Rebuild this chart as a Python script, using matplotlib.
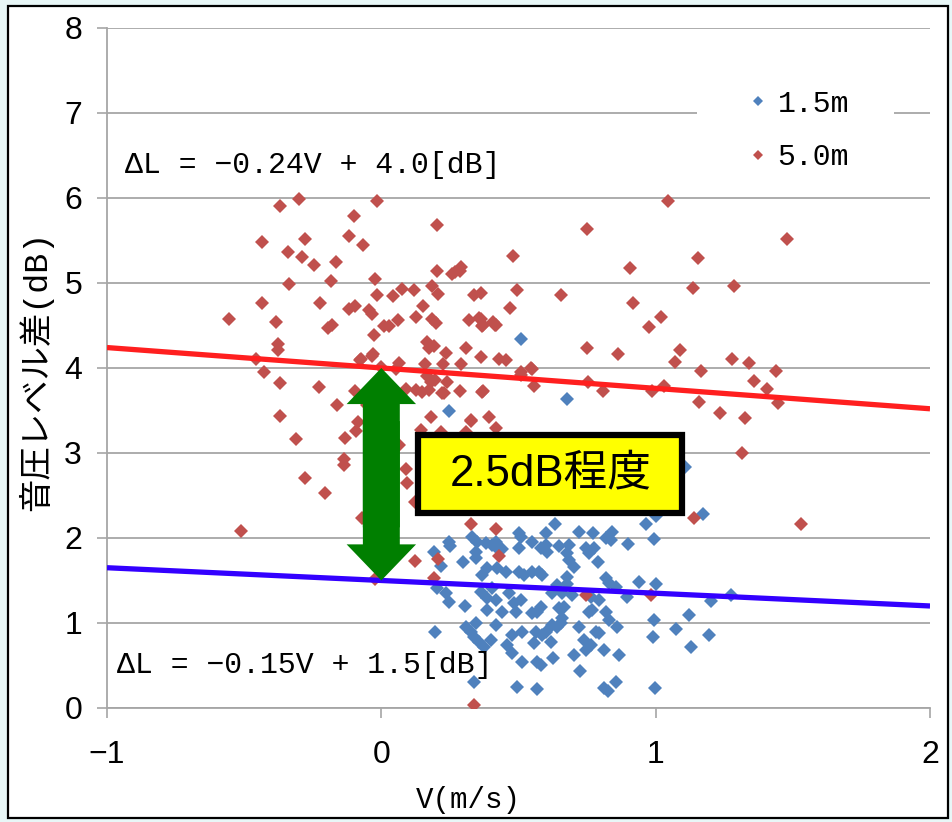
import matplotlib
matplotlib.use('Agg')
import matplotlib.pyplot as plt
from matplotlib.lines import Line2D
from matplotlib.path import Path
from matplotlib.patches import Rectangle, FancyArrowPatch

# Measured level difference vs. wind speed, 5.0 m microphone
red_v = [-0.554, -0.51, -0.456, -0.434, -0.434, -0.427, -0.383, -0.377, -0.377, -0.368,
         -0.368, -0.37, -0.312, -0.30, -0.339, -0.337, -0.29, -0.277, -0.277, -0.244,
         -0.226, -0.224, -0.206, -0.195, -0.184, -0.18, -0.166, -0.162, -0.135, -0.135,
         -0.131, -0.117, -0.117, -0.10, -0.095, -0.095, -0.093, -0.084, -0.075, -0.069,
         -0.066, -0.051, -0.044, -0.035, -0.031, -0.027, -0.024, -0.016, -0.016, -0.024,
         0.0, 0.011, 0.029, 0.044, 0.053, 0.062, 0.066, 0.075, 0.089, 0.091,
         0.12, 0.124, 0.126, 0.124, 0.128, 0.151, 0.16, 0.166, 0.168, 0.173,
         0.175, 0.18, 0.186, 0.186, 0.193, 0.195, 0.20, 0.204, 0.204, 0.206,
         0.208, 0.226, 0.23, 0.237, 0.257, 0.27, 0.286, 0.292, 0.286, 0.29,
         0.308, 0.326, 0.326, 0.321, 0.339, 0.339, 0.363, 0.365, 0.37, 0.363,
         0.37, 0.394, 0.407, 0.419, 0.419, 0.419, 0.43, 0.43, 0.456, 0.47,
         0.48, 0.494, 0.509, 0.549, 0.558, 0.656, 0.751, 0.751, 0.753, 0.746,
         0.808, 0.864, 0.906, 0.919, 0.975, 0.986, 1.019, 1.045, 1.032, 1.07,
         1.087, 1.136, 1.139, 1.156, 1.158, 1.167, 1.234, 1.278, 1.285, 1.316,
         1.327, 1.34, 1.36, 1.406, 1.437, 1.446, 1.48, 1.528,
         0.18, 0.24, 0.15, 0.22, 0.368, 0.51, 0.546, 0.328, 0.146, 0.219,
         0.31, 0.066, 0.095, 0.984, 0.193, 0.357, 0.368, 0.415, -0.033, -0.077]
red_dl = [4.58, 2.08, 4.10, 5.48, 4.77, 3.95, 4.54, 4.28, 4.21, 3.82,
          5.91, 3.44, 3.17, 5.99, 5.37, 4.99, 5.30, 5.52, 2.71, 5.21,
          3.78, 4.76, 2.53, 4.47, 5.02, 4.51, 5.25, 3.57, 2.93, 2.86,
          3.18, 5.55, 4.69, 5.79, 4.73, 3.73, 3.26, 3.36, 4.10, 2.23,
          5.45, 3.56, 4.68, 4.63, 4.16, 4.39, 5.05, 5.97, 4.86, 1.52,
          4.01, 4.49, 4.49, 4.85, 3.99, 4.57, 4.06, 4.93, 2.81, 3.75,
          4.92, 1.73, 4.60, 2.42, 3.74, 4.73, 4.05, 3.90, 4.31, 3.74,
          4.23, 3.42, 4.97, 4.58, 4.26, 3.86, 4.53, 5.68, 5.14, 4.87,
          1.75, 4.05, 3.70, 4.18, 5.11, 5.13, 5.14, 5.19, 3.73, 4.05,
          4.23, 2.16, 3.38, 4.56, 4.86, 0.03, 4.88, 4.58, 4.50, 4.13,
          3.73, 3.42, 4.54, 4.51, 3.29, 2.10, 1.79, 4.10, 4.09, 4.71,
          5.32, 4.92, 3.92, 3.99, 3.79, 4.86, 5.64, 4.23, 3.84, 1.33,
          3.73, 4.17, 5.18, 4.77, 4.48, 3.73, 4.60, 5.96, 3.79, 4.07,
          4.21, 4.94, 2.23, 5.29, 3.60, 3.97, 3.47, 4.10, 4.97, 3.00,
          3.41, 4.06, 3.85, 3.75, 3.97, 3.59, 5.52, 2.17,
          3.84, 3.84, 3.72, 3.70, 3.72, 3.95, 4.00, 3.39, 3.27, 3.25,
          3.25, 3.09, 2.65, 1.33, 1.53, 4.59, 4.49, 4.51, 4.14, 4.09]

# Measured level difference vs. wind speed, 1.5 m microphone
blue_v = [0.509, 0.678, 0.246, 1.107, 1.172, 1.003, 0.963, 0.994, 0.899, 0.839,
          0.633, 0.193, 0.25, 0.219, 0.197, 0.939, 1.003, 1.20, 1.276, 1.12,
          1.074, 1.13, 1.196, 0.994, 0.99, 0.999, 0.868, 0.857, 0.813, 0.826,
          0.724, 0.567, 0.494, 0.337, 0.512, 0.567, 0.583, 0.625, 0.704,
          0.237, 0.248, 0.306, 0.299, 0.346, 0.346, 0.35, 0.332, 0.382, 0.404,
          0.423, 0.419, 0.441, 0.51, 0.503, 0.368, 0.386, 0.423, 0.455, 0.503,
          0.521, 0.364, 0.404, 0.386, 0.419, 0.441, 0.386, 0.485, 0.492, 0.51,
          0.466, 0.204, 0.31, 0.328, 0.339, 0.357, 0.375, 0.346, 0.401, 0.419,
          0.459, 0.477, 0.477, 0.514,
          0.55, 0.55, 0.583, 0.601, 0.605, 0.648, 0.685, 0.678, 0.685, 0.703,
          0.747, 0.758, 0.776, 0.79, 0.82, 0.838, 0.576, 0.587, 0.678, 0.641,
          0.678, 0.623, 0.659, 0.696, 0.82, 0.831, 0.856, 0.794, 0.765, 0.896,
          0.55, 0.568, 0.583, 0.648, 0.667, 0.659, 0.758, 0.769, 0.82, 0.831,
          0.86, 0.565, 0.601, 0.623, 0.641, 0.656, 0.721, 0.783, 0.794, 0.557,
          0.619, 0.587, 0.74, 0.765, 0.747, 0.812,
          0.6, 0.72, 0.77, 0.248, 0.503]
blue_dl = [4.34, 3.64, 3.49, 2.84, 2.28, 2.26, 2.16, 1.99, 1.93, 2.07,
           2.16, 1.83, 1.91, 1.67, 0.89, 1.48, 1.46, 1.26, 1.33, 1.09,
           0.93, 0.72, 0.86, 1.04, 0.83, 0.23, 0.62, 0.30, 0.23, 0.20,
           0.43, 0.22, 0.25, 0.31, 0.54, 0.54, 0.51, 0.59, 0.62,
           1.35, 1.25, 1.20, 1.72, 1.84, 1.76, 1.95, 2.01, 1.94, 1.92,
           1.88, 1.95, 1.87, 2.01, 1.88, 1.56, 1.65, 1.65, 1.60, 1.60,
           1.56, 1.36, 1.41, 1.29, 1.27, 1.13, 1.15, 1.24, 1.13, 1.27,
           1.35, 1.41, 0.95, 0.89, 0.84, 0.78, 0.72, 1.00, 0.80, 0.98,
           0.74, 0.86, 0.65, 0.89,
           1.95, 1.60, 1.88, 1.92, 1.84, 1.90, 1.92, 1.82, 1.74, 1.66,
           1.88, 1.82, 1.88, 1.72, 2.00, 1.98, 1.60, 1.56, 1.54, 1.45,
           1.46, 1.35, 1.35, 1.33, 1.53, 1.47, 1.42, 1.27, 1.31, 1.31,
           1.12, 1.13, 1.19, 1.18, 1.19, 1.06, 1.13, 1.15, 1.13, 1.04,
           0.95, 0.89, 0.89, 0.98, 0.95, 1.00, 0.95, 0.89, 0.88, 0.76,
           0.78, 0.86, 0.80, 0.74, 0.68, 0.68,
           2.06, 2.07, 2.06, 1.95, 2.06]

# Regression lines: dL = slope * V + intercept
fit_red = (-0.24, 4.0)
fit_blue = (-0.15, 1.5)

series_labels = ['1.5m', '5.0m']
x_ticks = [-1, 0, 1, 2]
y_ticks = [0, 1, 2, 3, 4, 5, 6, 7, 8]

RED = '#c0504d'
BLUE = '#4f81bd'
GRID = '#a6a6a6'
MONO = 'Liberation Mono'
JP = 'Noto Sans CJK JP'


def equation(fit):
    slope, intercept = fit
    return f'ΔL = {slope:.2f}V + {intercept:.1f}[dB]'.replace('-', '−')


def padded_box(left, right, bottom, top):
    """Rectangular box style with separate padding on each side (in font sizes)."""
    def style(x0, y0, width, height, mutation_size):
        x_lo, x_hi = x0 - left * mutation_size, x0 + width + right * mutation_size
        y_lo, y_hi = y0 - bottom * mutation_size, y0 + height + top * mutation_size
        return Path([(x_lo, y_lo), (x_hi, y_lo), (x_hi, y_hi), (x_lo, y_hi), (x_lo, y_lo)],
                    closed=True)
    return style


fig = plt.figure(figsize=(9.52, 8.22), dpi=100, facecolor='#e8f7f7')
# white panel with a thin black frame
frame = Rectangle((0.0084, 0.005), 0.9874, 0.9877, transform=fig.transFigure,
                  facecolor='white', edgecolor='black', linewidth=1.6, zorder=-10)
fig.add_artist(frame)

ax = fig.add_axes([0.1124, 0.1387, 0.8645, 0.8273])
ax.set_zorder(1)
ax.set_facecolor('none')

ax.plot(blue_v, blue_dl, 'D', color=BLUE, markersize=7, markeredgewidth=0, zorder=3)
ax.plot(red_v, red_dl, 'D', color=RED, markersize=7, markeredgewidth=0, zorder=3)

x_line = [x_ticks[0], x_ticks[-1]]
for fit, color in [(fit_red, '#ff1f1f'), (fit_blue, '#3300ff')]:
    ax.plot(x_line, [fit[0] * x + fit[1] for x in x_line], color=color, lw=3.8,
            solid_capstyle='butt', zorder=4)

ax.text(-0.936, 6.39, equation(fit_red), ha='left', va='center', family=MONO, fontsize=21.5)
ax.text(-0.962, 0.51, equation(fit_blue), ha='left', va='center', family=MONO, fontsize=21.5)

# double-headed arrow between the two intercepts at V = 0;
# the two halves overlap along the shaft so no seam shows
gap = fit_red[1] - fit_blue[1]
mid = (fit_red[1] + fit_blue[1]) / 2
for start, end in ((mid - 0.25 * gap, fit_red[1]), (mid + 0.25 * gap, fit_blue[1])):
    ax.add_patch(FancyArrowPatch((0, start), (0, end), shrinkA=0, shrinkB=0,
                                 arrowstyle='simple,head_length=2.6,head_width=5.0,tail_width=2.66',
                                 mutation_scale=10, color='#007f00', lw=0, zorder=5))

ax.text(0.616, mid, f'{gap:.1f}dB程度', ha='center', va='center',
        family=['Liberation Sans', JP], fontsize=31.5, zorder=6,
        bbox=dict(boxstyle=padded_box(0.71, 0.71, 0.42, 0.42), facecolor='#ffff00',
                  edgecolor='black', linewidth=4.5))

handles = [Line2D([], [], marker='D', ls='none', color=c, markersize=5, markeredgewidth=0)
           for c in (BLUE, RED)]
leg = ax.legend(handles, series_labels, loc='upper left', bbox_to_anchor=(0.744, 0.953),
                frameon=True, fancybox=False, facecolor='white', edgecolor='none',
                framealpha=1, prop=dict(family=MONO, size=21.5), handlelength=0.6,
                handletextpad=0.35, labelspacing=0.85, borderpad=0.5)
leg.get_frame().set_boxstyle(padded_box(1.24, 1.0, 0, 0))
leg.set_zorder(2)

ax.set_xlim(x_ticks[0], x_ticks[-1])
ax.set_ylim(y_ticks[0], y_ticks[-1])
ax.set_xticks(x_ticks)
ax.set_yticks(y_ticks)
ax.set_xticklabels([str(t).replace('-', '−') for t in x_ticks], family='Liberation Sans', fontsize=23)
ax.set_yticklabels([str(t) for t in y_ticks], family='Liberation Sans', fontsize=23)
ax.tick_params(axis='both', direction='out', length=7, width=1.2, color=GRID)
ax.tick_params(axis='x', pad=16)
ax.tick_params(axis='y', pad=11)

ax.grid(axis='y', color=GRID, lw=1.3, zorder=1)
ax.set_axisbelow(True)
for side in ('top', 'right'):
    ax.spines[side].set_visible(False)
for side in ('left', 'bottom'):
    ax.spines[side].set_color(GRID)
    ax.spines[side].set_linewidth(1.3)

ax.set_xlabel('V(m/s)', family=MONO, fontsize=21)
ax.xaxis.set_label_coords(0.439, -0.115)
ax.set_ylabel('音圧レベル差(dB)', family=[MONO, JP], fontsize=24)
ax.yaxis.set_label_coords(-0.065, 0.495)

fig.savefig('out.png', dpi=100, facecolor=fig.get_facecolor())
